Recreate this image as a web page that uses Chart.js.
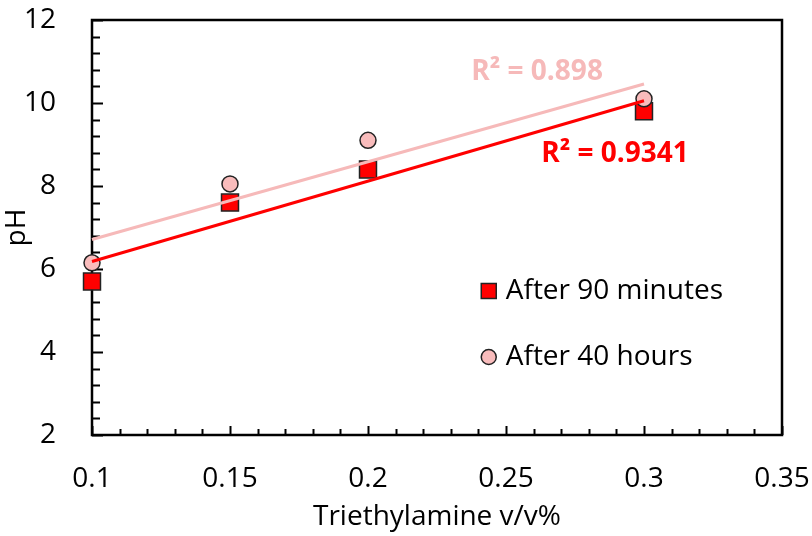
<!DOCTYPE html>
<html>
<head>
<meta charset="utf-8">
<script src="https://cdn.jsdelivr.net/npm/chart.js@4/dist/chart.umd.min.js"></script>
<style>
  html, body { margin: 0; padding: 0; background: #fff; }
  #wrap { width: 812px; height: 536px; }
</style>
</head>
<body>
<div id="wrap"><canvas id="chart"></canvas></div>
<script>
// data
var concentration = [0.1, 0.15, 0.2, 0.3];
var ph90min = [5.7, 7.6, 8.4, 9.8];
var ph40h = [6.15, 8.05, 9.1, 10.1];
var seriesLabels = ["After 90 minutes", "After 40 hours"];
var r2Labels = ["R\u00b2 = 0.9341", "R\u00b2 = 0.898"];
var xTicks = [0.1, 0.15, 0.2, 0.25, 0.3, 0.35];
var yTicks = [2, 4, 6, 8, 10, 12];

var red = "#ff0000";
var pink = "#f9bcbc";
var pinkLine = "#f6b9b9";
var font = "'Open Sans', sans-serif";

// least squares fit, drawn from min to max x like Excel's trendline
function trend(xs, ys) {
  var n = xs.length, mx = 0, my = 0;
  for (var i = 0; i < n; i++) { mx += xs[i]; my += ys[i]; }
  mx /= n; my /= n;
  var sxx = 0, sxy = 0;
  for (var j = 0; j < n; j++) {
    sxx += (xs[j] - mx) * (xs[j] - mx);
    sxy += (xs[j] - mx) * (ys[j] - my);
  }
  var b = sxy / sxx, a = my - b * mx;
  var x0 = Math.min.apply(null, xs), x1 = Math.max.apply(null, xs);
  return [{ x: x0, y: a + b * x0 }, { x: x1, y: a + b * x1 }];
}

function pts(xs, ys) {
  return xs.map(function(x, i) { return { x: x, y: ys[i] }; });
}

// inward minor/major ticks, box border, legend and R² labels
var decor = {
  id: "decor",
  beforeDatasetsDraw: function(chart) {
    var ctx = chart.ctx, a = chart.chartArea;
    var xs = chart.scales.x, ys = chart.scales.y;
    ctx.save();
    ctx.strokeStyle = "#000";
    ctx.lineWidth = 2;
    ctx.beginPath();
    for (var i = 0; i <= 25; i++) {
      var v = 0.1 + i * 0.01;
      var px = Math.round(xs.getPixelForValue(v)) + 0.5;
      var len = i % 5 === 0 ? 9 : 6;
      ctx.moveTo(px, a.bottom);
      ctx.lineTo(px, a.bottom - len);
    }
    for (var k = 0; k <= 25; k++) {
      var w = 2 + k * 0.4;
      var py = Math.round(ys.getPixelForValue(w)) + 0.5;
      var l = k % 5 === 0 ? 11 : 8;
      ctx.moveTo(a.left, py);
      ctx.lineTo(a.left + l, py);
    }
    ctx.stroke();
    ctx.lineWidth = 2.5;
    ctx.strokeRect(a.left, a.top, a.right - a.left, a.bottom - a.top);
    ctx.restore();
  },
  afterDatasetsDraw: function(chart) {
    var ctx = chart.ctx, a = chart.chartArea;
    ctx.save();
    // R² labels next to the trendlines
    ctx.font = "bold 28px " + font;
    ctx.textAlign = "center";
    ctx.textBaseline = "middle";
    ctx.fillStyle = red;
    ctx.fillText(r2Labels[0], a.left + 0.758 * (a.right - a.left), a.top + 0.324 * (a.bottom - a.top));
    ctx.fillStyle = pinkLine;
    ctx.fillText(r2Labels[1], a.left + 0.645 * (a.right - a.left), a.top + 0.125 * (a.bottom - a.top));

    // legend inside the plot
    var lx = a.left + 0.575 * (a.right - a.left);
    var ly = [a.top + 0.653 * (a.bottom - a.top), a.top + 0.812 * (a.bottom - a.top)];
    ctx.lineWidth = 1.5;
    ctx.strokeStyle = "#222";
    ctx.fillStyle = red;
    ctx.fillRect(lx - 7.5, ly[0] - 7.5, 15, 15);
    ctx.strokeRect(lx - 7.5, ly[0] - 7.5, 15, 15);
    ctx.beginPath();
    ctx.arc(lx, ly[1], 7.5, 0, Math.PI * 2);
    ctx.fillStyle = pink;
    ctx.fill();
    ctx.stroke();
    ctx.font = "28px " + font;
    ctx.textAlign = "left";
    ctx.fillStyle = "#000";
    ctx.fillText(seriesLabels[0], lx + 17, ly[0]);
    ctx.fillText(seriesLabels[1], lx + 17, ly[1]);
    ctx.restore();
  }
};

var fmt = function(v) { return String(+Number(v).toFixed(2)); };

new Chart(document.getElementById("chart"), {
  type: "scatter",
  data: {
    datasets: [
      {
        label: seriesLabels[0],
        data: pts(concentration, ph90min),
        pointStyle: "rect",
        pointRadius: 12,
        backgroundColor: red,
        borderColor: "#222",
        borderWidth: 1.5,
        clip: false,
        order: 3
      },
      {
        label: seriesLabels[1],
        data: pts(concentration, ph40h),
        pointStyle: "circle",
        pointRadius: 8,
        backgroundColor: pink,
        borderColor: "#222",
        borderWidth: 1.5,
        clip: false,
        order: 2
      },
      {
        type: "line",
        label: "trend 90 min",
        data: trend(concentration, ph90min),
        borderColor: red,
        borderWidth: 3,
        pointRadius: 0,
        clip: false,
        order: 0
      },
      {
        type: "line",
        label: "trend 40 h",
        data: trend(concentration, ph40h),
        borderColor: pinkLine,
        borderWidth: 3,
        pointRadius: 0,
        clip: false,
        order: 1
      }
    ]
  },
  options: {
    responsive: true,
    maintainAspectRatio: false,
    animation: false,
    layout: { autoPadding: false, padding: { left: 0, right: 30, top: 20, bottom: 0 } },
    plugins: {
      legend: { display: false },
      tooltip: { enabled: false }
    },
    scales: {
      x: {
        type: "linear",
        min: 0.1,
        max: 0.35,
        afterBuildTicks: function(s) { s.ticks = xTicks.map(function(v) { return { value: v }; }); },
        afterFit: function(s) { s.height = 101; s.paddingLeft = 0; s.paddingRight = 0; },
        grid: { display: false },
        border: { display: false },
        ticks: { padding: 19, color: "#000", font: { family: font, size: 28 }, callback: fmt, maxRotation: 0 },
        title: { display: true, text: "Triethylamine v/v%", color: "#000", font: { family: font, size: 28 }, padding: { top: 0, bottom: 2 } }
      },
      y: {
        min: 2,
        max: 12,
        afterBuildTicks: function(s) { s.ticks = yTicks.map(function(v) { return { value: v }; }); },
        afterFit: function(s) { s.width = 92; s.paddingTop = 0; s.paddingBottom = 0; },
        grid: { display: false },
        border: { display: false },
        ticks: { padding: 28, color: "#000", font: { family: font, size: 28 }, callback: fmt },
        title: { display: true, text: "pH", color: "#000", font: { family: font, size: 28 }, padding: { top: 0, bottom: 0 } }
      }
    }
  },
  plugins: [decor]
});
</script>
</body>
</html>
